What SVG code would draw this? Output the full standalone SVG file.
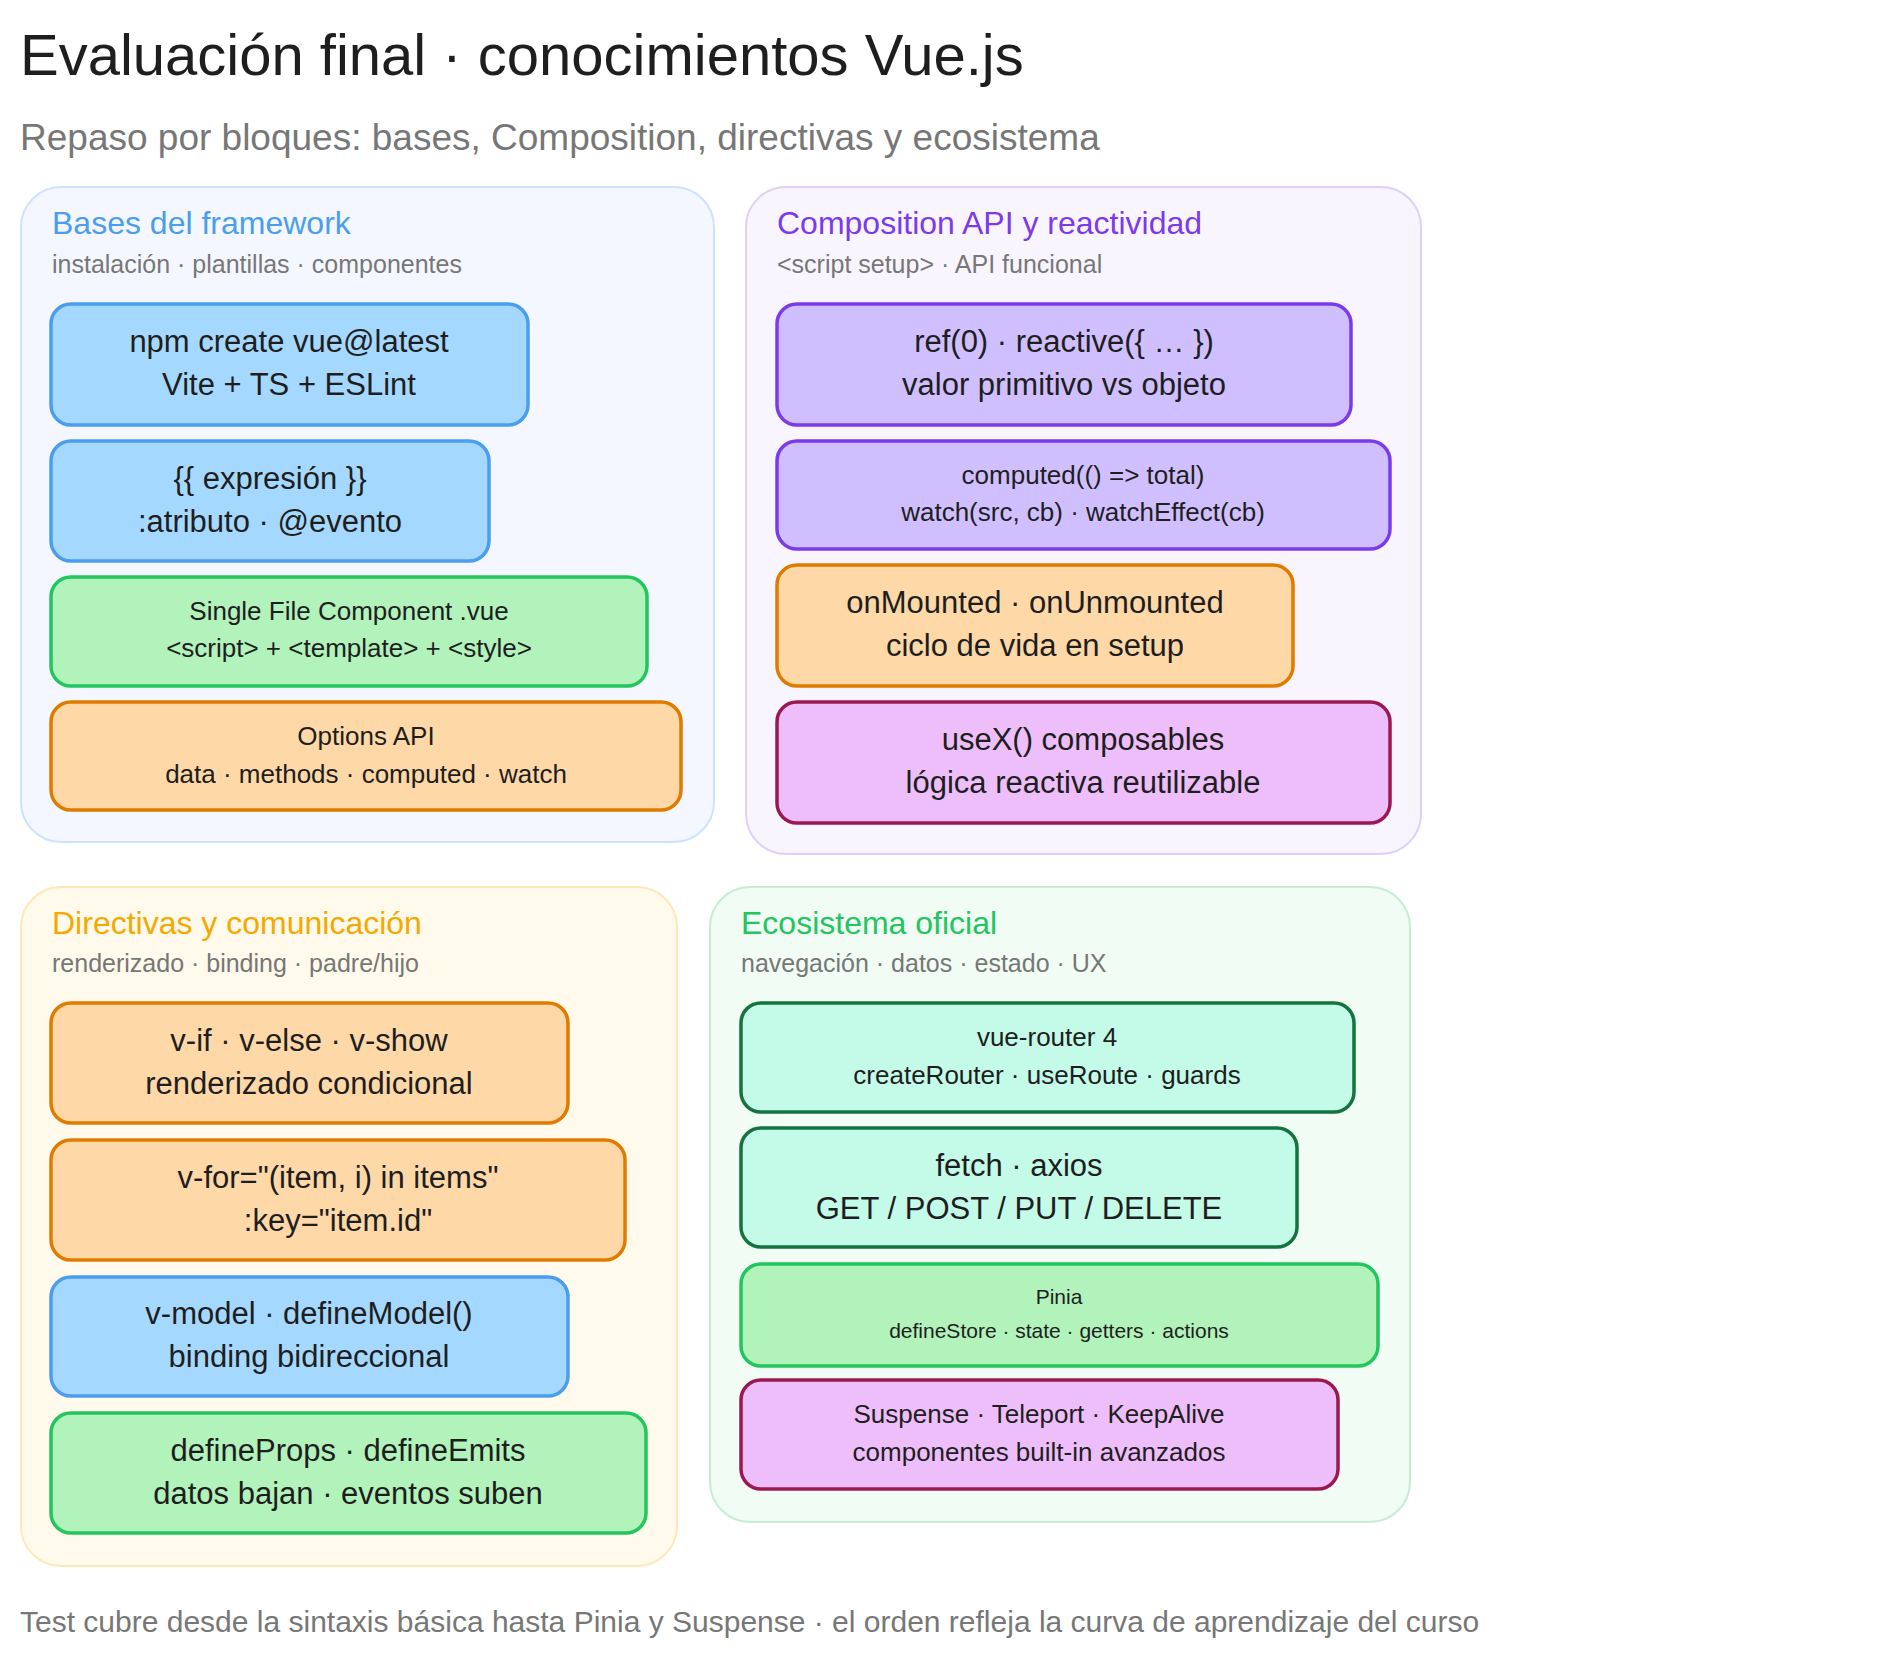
<svg xmlns="http://www.w3.org/2000/svg" width="1904" height="1655" viewBox="0 0 1904 1655">
<style>
text{font-family:"Liberation Sans",Arial,sans-serif;fill:#1e1e1e}
.t{font-size:58px}
.sub{font-size:37px;fill:#777}
.pt{font-size:32px}
.ps{font-size:25px;fill:#777}
.n{stroke-width:3.5}
.c{text-anchor:middle}
.big{font-size:31px}
.med{font-size:26px}
.sm{font-size:21px}
.foot{font-size:30px;fill:#777}
.blue{fill:#a5d8ff;stroke:#4a9eed}
.green{fill:#b2f2bb;stroke:#22c55e}
.orange{fill:#ffd8a8;stroke:#e07b00}
.purple{fill:#d0bfff;stroke:#7c3aed}
.pink{fill:#eebefa;stroke:#9c1850}
.teal{fill:#c3fae8;stroke:#15733f}
.panel{stroke-width:2}
</style>
<text class="t" x="20" y="75">Evaluación final · conocimientos Vue.js</text>
<text class="sub" x="20" y="150">Repaso por bloques: bases, Composition, directivas y ecosistema</text>

<g id="panel-bases">
<rect class="panel" x="21" y="187" width="693" height="655" rx="40" fill="#f4f7ff" stroke="#cfe2fb"/>
<text class="pt" x="52" y="234" style="fill:#4a9eed">Bases del framework</text>
<text class="ps" x="52" y="273">instalación · plantillas · componentes</text>
</g>
<g id="n-npm"><rect class="n blue" x="51" y="304" width="477" height="121" rx="20"/>
<text class="c big" x="289" y="352">npm create vue@latest</text><text class="c big" x="289" y="395">Vite + TS + ESLint</text></g>
<g id="n-expr"><rect class="n blue" x="51" y="441" width="438" height="120" rx="20"/>
<text class="c big" x="270" y="489">{{ expresión }}</text><text class="c big" x="270" y="532">:atributo · @evento</text></g>
<g id="n-sfc"><rect class="n green" x="51" y="577" width="596" height="109" rx="20"/>
<text class="c med" x="349" y="620">Single File Component .vue</text><text class="c med" x="349" y="657">&lt;script&gt; + &lt;template&gt; + &lt;style&gt;</text></g>
<g id="n-options"><rect class="n orange" x="51" y="702" width="630" height="108" rx="20"/>
<text class="c med" x="366" y="745">Options API</text><text class="c med" x="366" y="783">data · methods · computed · watch</text></g>

<g id="panel-composition">
<rect class="panel" x="746" y="187" width="675" height="667" rx="40" fill="#f8f5ff" stroke="#ddd0fb"/>
<text class="pt" x="777" y="234" style="fill:#7c3aed">Composition API y reactividad</text>
<text class="ps" x="777" y="273">&lt;script setup&gt; · API funcional</text>
</g>
<g id="n-ref"><rect class="n purple" x="777" y="304" width="574" height="121" rx="20"/>
<text class="c big" x="1064" y="352">ref(0) · reactive({ … })</text><text class="c big" x="1064" y="395">valor primitivo vs objeto</text></g>
<g id="n-computed"><rect class="n purple" x="777" y="441" width="613" height="108" rx="20"/>
<text class="c med" x="1083" y="484">computed(() =&gt; total)</text><text class="c med" x="1083" y="521">watch(src, cb) · watchEffect(cb)</text></g>
<g id="n-lifecycle"><rect class="n orange" x="777" y="565" width="516" height="121" rx="20"/>
<text class="c big" x="1035" y="613">onMounted · onUnmounted</text><text class="c big" x="1035" y="656">ciclo de vida en setup</text></g>
<g id="n-composables"><rect class="n pink" x="777" y="702" width="613" height="121" rx="20"/>
<text class="c big" x="1083" y="750">useX() composables</text><text class="c big" x="1083" y="793">lógica reactiva reutilizable</text></g>

<g id="panel-directivas">
<rect class="panel" x="21" y="887" width="656" height="679" rx="40" fill="#fffaeb" stroke="#fde8b8"/>
<text class="pt" x="52" y="934" style="fill:#f5a800">Directivas y comunicación</text>
<text class="ps" x="52" y="972">renderizado · binding · padre/hijo</text>
</g>
<g id="n-vif"><rect class="n orange" x="51" y="1003" width="517" height="120" rx="20"/>
<text class="c big" x="309" y="1051">v-if · v-else · v-show</text><text class="c big" x="309" y="1094">renderizado condicional</text></g>
<g id="n-vfor"><rect class="n orange" x="51" y="1140" width="574" height="120" rx="20"/>
<text class="c big" x="338" y="1188">v-for="(item, i) in items"</text><text class="c big" x="338" y="1231">:key="item.id"</text></g>
<g id="n-vmodel"><rect class="n blue" x="51" y="1277" width="517" height="119" rx="20"/>
<text class="c big" x="309" y="1324">v-model · defineModel()</text><text class="c big" x="309" y="1367">binding bidireccional</text></g>
<g id="n-props"><rect class="n green" x="51" y="1413" width="595" height="120" rx="20"/>
<text class="c big" x="348" y="1461">defineProps · defineEmits</text><text class="c big" x="348" y="1504">datos bajan · eventos suben</text></g>

<g id="panel-ecosistema">
<rect class="panel" x="710" y="887" width="700" height="635" rx="40" fill="#f0fcf4" stroke="#c5ecd4"/>
<text class="pt" x="741" y="934" style="fill:#22c55e">Ecosistema oficial</text>
<text class="ps" x="741" y="972">navegación · datos · estado · UX</text>
</g>
<g id="n-router"><rect class="n teal" x="741" y="1003" width="613" height="109" rx="20"/>
<text class="c med" x="1047" y="1046">vue-router 4</text><text class="c med" x="1047" y="1084">createRouter · useRoute · guards</text></g>
<g id="n-fetch"><rect class="n teal" x="741" y="1128" width="556" height="119" rx="20"/>
<text class="c big" x="1019" y="1176">fetch · axios</text><text class="c big" x="1019" y="1219">GET / POST / PUT / DELETE</text></g>
<g id="n-pinia"><rect class="n green" x="741" y="1264" width="637" height="102" rx="20"/>
<text class="c sm" x="1059" y="1304">Pinia</text><text class="c sm" x="1059" y="1338">defineStore · state · getters · actions</text></g>
<g id="n-suspense"><rect class="n pink" x="741" y="1380" width="597" height="109" rx="20"/>
<text class="c med" x="1039" y="1423">Suspense · Teleport · KeepAlive</text><text class="c med" x="1039" y="1461">componentes built-in avanzados</text></g>

<g id="connectors"></g>
<text class="foot" x="20" y="1632">Test cubre desde la sintaxis básica hasta Pinia y Suspense · el orden refleja la curva de aprendizaje del curso</text>
</svg>
